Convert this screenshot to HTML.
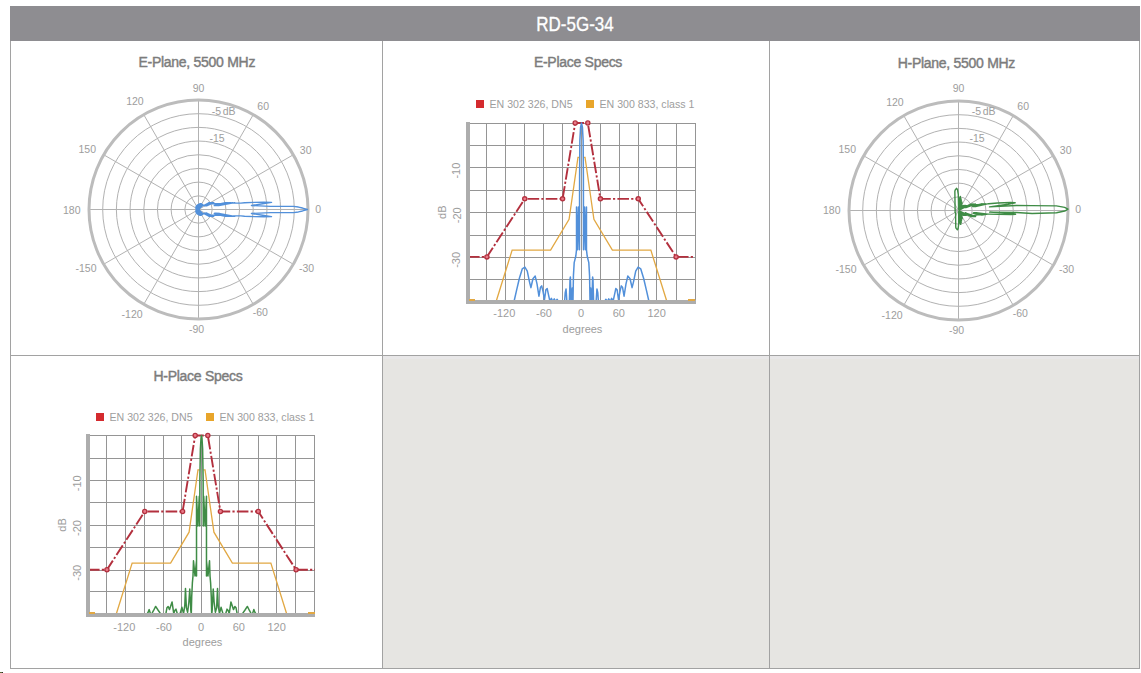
<!DOCTYPE html><html><head><meta charset="utf-8"><style>
html,body{margin:0;padding:0;background:#fff;}body{width:1141px;height:673px;position:relative;overflow:hidden;font-family:"Liberation Sans", sans-serif;}
.hdr{position:absolute;left:10px;top:6px;width:1130px;height:35px;background:#8e8d91;}
.hdr span{position:absolute;left:0;width:1130px;top:6px;text-align:center;color:#fff;font-size:21px;-webkit-text-stroke:0.35px #fff;line-height:24px;transform:scaleX(0.81);transform-origin:565px 0;}
.p{position:absolute;background:#e6e5e2;}
.l{position:absolute;background:#a2a2a2;}
svg{position:absolute;left:0;top:0;}
</style></head><body>
<div class="p" style="left:383px;top:356px;width:756px;height:312px"></div>
<div style="position:absolute;left:383px;top:356px;width:756px;height:3px;background:#e8e7e8"></div>
<div style="position:absolute;left:0;top:672px;width:2px;height:1px;background:#5a6a38"></div><div style="position:absolute;left:2px;top:672px;width:1px;height:1px;background:#2a2a2a"></div>
<div class="l" style="left:10px;top:41px;width:1px;height:628px"></div>
<div class="l" style="left:382px;top:41px;width:1px;height:628px"></div>
<div class="l" style="left:769px;top:41px;width:1px;height:628px"></div>
<div class="l" style="left:1139px;top:41px;width:1px;height:628px"></div>
<div class="l" style="left:10px;top:355px;width:1130px;height:1px"></div>
<div class="l" style="left:10px;top:668px;width:1130px;height:1px"></div>
<div class="hdr"><span>RD-5G-34</span></div>
<svg width="1141" height="673" viewBox="0 0 1141 673" font-family='"Liberation Sans", sans-serif'>
<text x="196.8" y="67.2" font-size="14" fill="#7c7c7c" text-anchor="middle" font-weight="normal" stroke="#7c7c7c" stroke-width="0.42" letter-spacing="-0.28">E-Plane, 5500 MHz</text>
<circle cx="198.5" cy="209.5" r="13.69" fill="none" stroke="#b2b2b2" stroke-width="1"/>
<circle cx="198.5" cy="209.5" r="27.38" fill="none" stroke="#b2b2b2" stroke-width="1"/>
<circle cx="198.5" cy="209.5" r="41.06" fill="none" stroke="#b2b2b2" stroke-width="1"/>
<circle cx="198.5" cy="209.5" r="54.75" fill="none" stroke="#b2b2b2" stroke-width="1"/>
<circle cx="198.5" cy="209.5" r="68.44" fill="none" stroke="#b2b2b2" stroke-width="1"/>
<circle cx="198.5" cy="209.5" r="82.12" fill="none" stroke="#b2b2b2" stroke-width="1"/>
<circle cx="198.5" cy="209.5" r="95.81" fill="none" stroke="#b2b2b2" stroke-width="1"/>
<line x1="198.5" y1="209.5" x2="308" y2="209.5" stroke="#b2b2b2" stroke-width="1"/>
<line x1="198.5" y1="209.5" x2="293.33" y2="154.75" stroke="#b2b2b2" stroke-width="1"/>
<line x1="198.5" y1="209.5" x2="253.25" y2="114.67" stroke="#b2b2b2" stroke-width="1"/>
<line x1="198.5" y1="209.5" x2="198.5" y2="100" stroke="#b2b2b2" stroke-width="1"/>
<line x1="198.5" y1="209.5" x2="143.75" y2="114.67" stroke="#b2b2b2" stroke-width="1"/>
<line x1="198.5" y1="209.5" x2="103.67" y2="154.75" stroke="#b2b2b2" stroke-width="1"/>
<line x1="198.5" y1="209.5" x2="89" y2="209.5" stroke="#b2b2b2" stroke-width="1"/>
<line x1="198.5" y1="209.5" x2="103.67" y2="264.25" stroke="#b2b2b2" stroke-width="1"/>
<line x1="198.5" y1="209.5" x2="143.75" y2="304.33" stroke="#b2b2b2" stroke-width="1"/>
<line x1="198.5" y1="209.5" x2="198.5" y2="319" stroke="#b2b2b2" stroke-width="1"/>
<line x1="198.5" y1="209.5" x2="253.25" y2="304.33" stroke="#b2b2b2" stroke-width="1"/>
<line x1="198.5" y1="209.5" x2="293.33" y2="264.25" stroke="#b2b2b2" stroke-width="1"/>
<circle cx="198.5" cy="209.5" r="109.5" fill="none" stroke="#bcbcbc" stroke-width="3"/>
<text x="198.5" y="92" font-size="10.5" fill="#9d9d9d" text-anchor="middle" font-weight="normal">90</text>
<text x="257.3" y="109.9" font-size="10.5" fill="#9d9d9d" text-anchor="start" font-weight="normal">60</text>
<text x="299.8" y="154" font-size="10.5" fill="#9d9d9d" text-anchor="start" font-weight="normal">30</text>
<text x="315.2" y="212.7" font-size="10.5" fill="#9d9d9d" text-anchor="start" font-weight="normal">0</text>
<text x="299" y="271.5" font-size="10.5" fill="#9d9d9d" text-anchor="start" font-weight="normal">-30</text>
<text x="252.7" y="316" font-size="10.5" fill="#9d9d9d" text-anchor="start" font-weight="normal">-60</text>
<text x="196.6" y="333" font-size="10.5" fill="#9d9d9d" text-anchor="middle" font-weight="normal">-90</text>
<text x="142.6" y="318.1" font-size="10.5" fill="#9d9d9d" text-anchor="end" font-weight="normal">-120</text>
<text x="96.5" y="271.8" font-size="10.5" fill="#9d9d9d" text-anchor="end" font-weight="normal">-150</text>
<text x="80.5" y="214" font-size="10.5" fill="#9d9d9d" text-anchor="end" font-weight="normal">180</text>
<text x="96" y="152.7" font-size="10.5" fill="#9d9d9d" text-anchor="end" font-weight="normal">150</text>
<text x="143.7" y="105.3" font-size="10.5" fill="#9d9d9d" text-anchor="end" font-weight="normal">120</text>
<text x="211.8" y="114.7" font-size="10.5" fill="#9d9d9d" text-anchor="start" font-weight="normal">-5<tspan dx="-0.8"> </tspan><tspan dx="-0.6">dB</tspan></text>
<text x="209.5" y="141.7" font-size="10.5" fill="#9d9d9d" text-anchor="start" font-weight="normal">-15</text>
<polyline points="198.22,209.5 196.56,209.54 198.2,209.51 196.48,209.63 198.19,209.53 196.4,209.72 198.18,209.54 196.32,209.82 198.17,209.56 196.26,209.93 198.16,209.57 196.19,210.04 198.15,209.59 196.14,210.16 198.14,209.61 196.08,210.28 198.13,209.63 196.04,210.42 198.13,209.65 196,210.55 198.12,209.67 195.97,210.69 198.12,209.69 195.95,210.83 198.12,209.71 195.93,210.98 198.11,209.73 195.92,211.14 198.11,209.76 195.92,211.29 198.11,209.78 195.93,211.45 198.12,209.8 195.95,211.61 198.12,209.83 195.98,211.77 198.12,209.85 196.01,211.93 198.13,209.88 196.06,212.1 198.14,209.9 196.12,212.26 198.15,209.93 196.19,212.42 198.16,209.95 196.27,212.57 198.17,209.97 196.35,212.73 198.18,210 196.45,212.89 198.2,210.02 196.55,213.04 198.22,210.04 196.67,213.19 198.23,210.06 196.79,213.34 198.25,210.09 196.92,213.48 198.27,210.11 197.07,213.62 198.3,210.13 197.22,213.75 198.32,210.15 197.38,213.88 198.34,210.17 197.54,214 198.37,210.18 197.72,214.11 198.4,210.2 197.9,214.22 198.42,210.22 198.09,214.32 198.45,210.23 198.29,214.42 198.48,210.24 198.5,214.5 198.52,210.26 198.72,214.65 198.55,210.28 198.94,214.79 198.58,210.3 199.19,214.92 198.62,210.32 199.44,215.05 198.66,210.34 199.7,215.15 198.7,210.36 199.98,215.25 198.74,210.37 200.26,215.33 198.79,210.38 200.55,215.4 198.83,210.39 200.82,215.36 198.87,210.37 201.06,215.26 198.9,210.36 201.3,215.14 198.94,210.34 201.54,215.02 198.97,210.32 201.76,214.89 199.01,210.3 201.99,214.75 199.04,210.28 202.2,214.6 199.07,210.25 202.41,214.44 199.1,210.23 202.62,214.27 199.13,210.2 202.81,214.09 199.16,210.18 203,213.91 199.19,210.15 203.18,213.72 203.71,213.87 204.57,213.91 209.22,216.3 204.56,213.24 209.82,216.3 204.9,213.24 210.47,216.3 205.27,213.24 211.18,216.3 205.68,213.24 211.96,216.3 206.13,213.24 212.82,216.3 206.63,213.24 213.77,216.3 212.16,215.3 213,215.3 213.93,215.3 214.97,215.3 216.14,215.3 217.47,215.3 219,215.3 220.77,215.3 225.42,216.41 214.3,213.47 226.64,216.41 215.03,213.47 227.97,216.41 215.83,213.47 229.42,216.41 216.7,213.47 231.02,216.41 217.66,213.47 232.78,216.41 218.73,213.47 234.73,216.41 233.37,215.9 235.55,215.9 238.01,215.9 240.82,215.9 244.55,216.22 254.16,216.63 263.8,216.71 271.51,216.66 262.58,215.22 251.46,213.48 270.43,212.6 293.44,212.6 298.39,211.94 302.51,210.95 307.45,209.5 302.51,208.05 298.39,207.06 293.44,206.4 270.43,206.4 251.46,205.52 262.58,203.78 271.51,202.34 263.8,202.29 254.16,202.37 244.55,202.78 240.82,203.1 238.01,203.1 235.55,203.1 233.37,203.1 234.73,202.59 218.73,205.53 232.78,202.59 217.66,205.53 231.02,202.59 216.7,205.53 229.42,202.59 215.83,205.53 227.97,202.59 215.03,205.53 226.64,202.59 214.3,205.53 225.42,202.59 220.77,203.7 219,203.7 217.47,203.7 216.14,203.7 214.97,203.7 213.93,203.7 213,203.7 212.16,203.7 213.77,202.7 206.63,205.76 212.82,202.7 206.13,205.76 211.96,202.7 205.68,205.76 211.18,202.7 205.27,205.76 210.47,202.7 204.9,205.76 209.82,202.7 204.56,205.76 209.22,202.7 204.57,205.09 203.71,205.13 203.18,205.28 199.19,208.85 203,205.09 199.16,208.82 202.81,204.91 199.13,208.8 202.62,204.73 199.1,208.77 202.41,204.56 199.07,208.75 202.2,204.4 199.04,208.72 201.99,204.25 199.01,208.7 201.76,204.11 198.97,208.68 201.54,203.98 198.94,208.66 201.3,203.86 198.9,208.64 201.06,203.74 198.87,208.63 200.82,203.64 198.83,208.61 200.55,203.6 198.79,208.62 200.26,203.67 198.74,208.63 199.98,203.75 198.7,208.64 199.7,203.85 198.66,208.66 199.44,203.95 198.62,208.68 199.19,204.08 198.58,208.7 198.94,204.21 198.55,208.72 198.72,204.35 198.52,208.74 198.5,204.5 198.48,208.76 198.29,204.58 198.45,208.77 198.09,204.68 198.42,208.78 197.9,204.78 198.4,208.8 197.72,204.89 198.37,208.82 197.54,205 198.34,208.83 197.38,205.12 198.32,208.85 197.22,205.25 198.3,208.87 197.07,205.38 198.27,208.89 196.92,205.52 198.25,208.91 196.79,205.66 198.23,208.94 196.67,205.81 198.22,208.96 196.55,205.96 198.2,208.98 196.45,206.11 198.18,209 196.35,206.27 198.17,209.03 196.27,206.43 198.16,209.05 196.19,206.58 198.15,209.07 196.12,206.74 198.14,209.1 196.06,206.9 198.13,209.12 196.01,207.07 198.12,209.15 195.98,207.23 198.12,209.17 195.95,207.39 198.12,209.2 195.93,207.55 198.11,209.22 195.92,207.71 198.11,209.24 195.92,207.86 198.11,209.27 195.93,208.02 198.12,209.29 195.95,208.17 198.12,209.31 195.97,208.31 198.12,209.33 196,208.45 198.13,209.35 196.04,208.58 198.13,209.37 196.08,208.72 198.14,209.39 196.14,208.84 198.15,209.41 196.19,208.96 198.16,209.43 196.26,209.07 198.17,209.44 196.32,209.18 198.18,209.46 196.4,209.28 198.19,209.47 196.48,209.37 198.2,209.49 196.56,209.46 198.22,209.5" fill="none" stroke="#5290da" stroke-width="1.4" stroke-linejoin="round"/>
<text x="956.4" y="68.1" font-size="14" fill="#7c7c7c" text-anchor="middle" font-weight="normal" stroke="#7c7c7c" stroke-width="0.42" letter-spacing="-0.28">H-Plane, 5500 MHz</text>
<circle cx="958.5" cy="210.5" r="13.69" fill="none" stroke="#b2b2b2" stroke-width="1"/>
<circle cx="958.5" cy="210.5" r="27.38" fill="none" stroke="#b2b2b2" stroke-width="1"/>
<circle cx="958.5" cy="210.5" r="41.06" fill="none" stroke="#b2b2b2" stroke-width="1"/>
<circle cx="958.5" cy="210.5" r="54.75" fill="none" stroke="#b2b2b2" stroke-width="1"/>
<circle cx="958.5" cy="210.5" r="68.44" fill="none" stroke="#b2b2b2" stroke-width="1"/>
<circle cx="958.5" cy="210.5" r="82.12" fill="none" stroke="#b2b2b2" stroke-width="1"/>
<circle cx="958.5" cy="210.5" r="95.81" fill="none" stroke="#b2b2b2" stroke-width="1"/>
<line x1="958.5" y1="210.5" x2="1068" y2="210.5" stroke="#b2b2b2" stroke-width="1"/>
<line x1="958.5" y1="210.5" x2="1053.33" y2="155.75" stroke="#b2b2b2" stroke-width="1"/>
<line x1="958.5" y1="210.5" x2="1013.25" y2="115.67" stroke="#b2b2b2" stroke-width="1"/>
<line x1="958.5" y1="210.5" x2="958.5" y2="101" stroke="#b2b2b2" stroke-width="1"/>
<line x1="958.5" y1="210.5" x2="903.75" y2="115.67" stroke="#b2b2b2" stroke-width="1"/>
<line x1="958.5" y1="210.5" x2="863.67" y2="155.75" stroke="#b2b2b2" stroke-width="1"/>
<line x1="958.5" y1="210.5" x2="849" y2="210.5" stroke="#b2b2b2" stroke-width="1"/>
<line x1="958.5" y1="210.5" x2="863.67" y2="265.25" stroke="#b2b2b2" stroke-width="1"/>
<line x1="958.5" y1="210.5" x2="903.75" y2="305.33" stroke="#b2b2b2" stroke-width="1"/>
<line x1="958.5" y1="210.5" x2="958.5" y2="320" stroke="#b2b2b2" stroke-width="1"/>
<line x1="958.5" y1="210.5" x2="1013.25" y2="305.33" stroke="#b2b2b2" stroke-width="1"/>
<line x1="958.5" y1="210.5" x2="1053.33" y2="265.25" stroke="#b2b2b2" stroke-width="1"/>
<circle cx="958.5" cy="210.5" r="109.5" fill="none" stroke="#bcbcbc" stroke-width="3"/>
<text x="958.5" y="92.2" font-size="10.5" fill="#9d9d9d" text-anchor="middle" font-weight="normal">90</text>
<text x="1017.3" y="110.1" font-size="10.5" fill="#9d9d9d" text-anchor="start" font-weight="normal">60</text>
<text x="1059.8" y="154.2" font-size="10.5" fill="#9d9d9d" text-anchor="start" font-weight="normal">30</text>
<text x="1075.2" y="212.9" font-size="10.5" fill="#9d9d9d" text-anchor="start" font-weight="normal">0</text>
<text x="1059" y="272.8" font-size="10.5" fill="#9d9d9d" text-anchor="start" font-weight="normal">-30</text>
<text x="1012.7" y="317.3" font-size="10.5" fill="#9d9d9d" text-anchor="start" font-weight="normal">-60</text>
<text x="956.6" y="334.3" font-size="10.5" fill="#9d9d9d" text-anchor="middle" font-weight="normal">-90</text>
<text x="902.6" y="319.4" font-size="10.5" fill="#9d9d9d" text-anchor="end" font-weight="normal">-120</text>
<text x="856.5" y="273.1" font-size="10.5" fill="#9d9d9d" text-anchor="end" font-weight="normal">-150</text>
<text x="840.5" y="214.2" font-size="10.5" fill="#9d9d9d" text-anchor="end" font-weight="normal">180</text>
<text x="856" y="152.9" font-size="10.5" fill="#9d9d9d" text-anchor="end" font-weight="normal">150</text>
<text x="903.7" y="105.5" font-size="10.5" fill="#9d9d9d" text-anchor="end" font-weight="normal">120</text>
<text x="971.8" y="114.9" font-size="10.5" fill="#9d9d9d" text-anchor="start" font-weight="normal">-5<tspan dx="-0.8"> </tspan><tspan dx="-0.6">dB</tspan></text>
<text x="969.5" y="141.9" font-size="10.5" fill="#9d9d9d" text-anchor="start" font-weight="normal">-15</text>
<polyline points="955.1,210.54 955.1,210.66 955.1,210.78 955.1,210.9 955.11,211.02 955.11,211.14 955.11,211.26 955.11,211.39 955.11,211.52 955.11,211.65 955.12,211.78 955.12,211.92 955.12,212.06 955.12,212.2 955.12,212.35 955.12,212.5 955.58,212.37 955.58,212.52 955.58,212.67 955.59,212.83 955.59,213 955.59,213.19 955.59,213.38 955.59,213.58 955.6,213.8 955.6,214.04 955.6,214.3 955.61,214.59 955.61,214.9 955.62,215.24 955.62,215.63 955.63,216.07 955.63,216.57 955.64,217.14 955.65,217.82 955.66,218.62 955.67,219.59 955.68,220.8 955.7,222.34 955.73,224.38 955.76,227.22 956.19,228.53 956.78,229.03 957.39,229.77 958.09,228.67 958.67,224.35 958.63,212.5 959.7,222.97 958.65,211.69 960.72,224.39 958.73,211.68 961.19,222.46 958.8,211.66 961.54,220.91 958.87,211.64 961.54,218.91 958.94,211.61 962.13,218.85 959.01,211.58 962.26,217.85 959.08,211.55 961.84,216.12 958.96,211.22 961.02,214.28 959.06,211.29 961.54,214.58 959.16,211.34 962.1,214.84 959.28,211.39 962.69,215.04 959.4,211.43 963.31,215.2 959.53,211.45 963.96,215.3 959.66,211.47 964.64,215.35 959.8,211.47 965.33,215.33 959.94,211.46 966.03,215.26 960.08,211.44 966.75,215.13 960.22,211.41 967.46,214.93 964.13,213.23 971.29,216.54 964.43,213.23 971.99,216.54 964.76,213.22 972.77,216.53 965.13,213.22 973.62,216.52 965.53,213.21 974.56,216.5 965.98,213.21 975.61,216.49 974.14,215.68 975.12,215.42 976.19,215.15 977.36,214.87 978.67,214.6 982.08,215.1 973.03,213.22 983.1,214.91 973.66,213.1 984.2,214.71 974.35,212.98 985.39,214.52 975.1,212.86 986.68,214.32 975.91,212.75 988.09,214.12 989.22,214.13 998.28,214.42 1010.91,214.46 1015.59,214.19 1008.51,213.41 989.67,212.11 1016.5,212.49 1032.08,213.55 1056.48,212.72 1064.71,211.06 1067.99,209.16 1064.67,207.35 1056.39,205.88 1031.98,205.66 1016.31,205.44 989.5,206.91 1008.2,204.22 1015.18,202.74 1010.44,202.46 997.75,202.94 988.68,203.7 987.56,203.84 975.59,206.49 986.15,203.86 974.78,206.5 984.87,203.88 974.04,206.51 983.69,203.89 973.36,206.52 982.61,203.9 972.73,206.53 981.61,203.92 978.26,204.76 977,204.77 975.88,204.79 974.87,204.8 973.96,204.81 975.46,204.09 965.91,207.61 974.41,204.11 965.47,207.61 973.47,204.12 965.06,207.62 972.61,204.13 964.7,207.62 971.84,204.14 964.36,207.63 971.14,204.15 964.06,207.63 967.35,205.85 960.2,209.55 966.63,205.67 960.05,209.52 965.91,205.56 959.91,209.5 965.21,205.5 959.77,209.5 964.52,205.51 959.64,209.51 963.84,205.57 959.5,209.52 963.2,205.69 959.38,209.55 962.58,205.86 959.26,209.59 961.99,206.08 959.14,209.64 961.44,206.35 959.04,209.7 960.93,206.66 958.94,209.77 961.7,204.8 959.05,209.44 962.08,203.06 958.99,209.4 961.93,202.06 958.92,209.37 961.34,202.02 958.84,209.35 961.29,200.02 958.77,209.33 960.9,198.48 958.7,209.32 960.38,196.56 958.62,209.31 959.4,198 958.58,208.5 958.3,194.5 957.51,189.52 956.67,188.27 955.99,189.15 955.32,189.74 954.86,191.26 954.9,194.55 954.93,196.91 954.96,198.69 954.97,200.08 954.99,201.2 955,202.13 955.01,202.91 955.02,203.57 955.02,204.15 955.03,204.65 955.03,205.1 955.04,205.5 955.04,205.86 955.05,206.19 955.05,206.49 955.05,206.77 955.06,207.02 955.06,207.26 955.06,207.48 955.07,207.69 955.07,207.89 955.07,208.07 955.07,208.25 955.07,208.42 955.08,208.58 955.08,208.73 955.08,208.88 955.08,209.03 955.08,209.17 955.09,209.3 955.09,209.44 955.09,209.57 955.09,209.69 955.09,209.82 955.09,209.94 955.09,210.06 955.1,210.18 955.1,210.3 955.1,210.42 955.1,210.54" fill="none" stroke="#3f8c46" stroke-width="1.4" stroke-linejoin="round"/>
<text x="578" y="67.2" font-size="14" fill="#7c7c7c" text-anchor="middle" font-weight="normal" stroke="#7c7c7c" stroke-width="0.42" letter-spacing="-0.28">E-Place Specs</text>
<rect x="476" y="100" width="8" height="8" fill="#d42a2e"/>
<text x="489.5" y="107.7" font-size="10.6" fill="#9d9d9d" text-anchor="start" font-weight="normal">EN 302 326, DN5</text>
<rect x="586" y="100" width="8" height="8" fill="#e8a52a"/>
<text x="599.5" y="107.7" font-size="10.6" fill="#9d9d9d" text-anchor="start" font-weight="normal">EN 300 833, class 1</text>
<rect x="486" y="123" width="1" height="179" fill="#959595"/>
<rect x="505" y="123" width="1" height="179" fill="#959595"/>
<rect x="524" y="123" width="1" height="179" fill="#959595"/>
<rect x="543" y="123" width="1" height="179" fill="#959595"/>
<rect x="562" y="123" width="1" height="179" fill="#959595"/>
<rect x="581" y="123" width="1" height="179" fill="#959595"/>
<rect x="600" y="123" width="1" height="179" fill="#959595"/>
<rect x="619" y="123" width="1" height="179" fill="#959595"/>
<rect x="638" y="123" width="1" height="179" fill="#959595"/>
<rect x="656" y="123" width="1" height="179" fill="#959595"/>
<rect x="676" y="123" width="1" height="179" fill="#959595"/>
<rect x="695" y="123" width="1" height="179" fill="#959595"/>
<rect x="468" y="123" width="228" height="1" fill="#959595"/>
<rect x="468" y="145" width="228" height="1" fill="#959595"/>
<rect x="468" y="167" width="228" height="1" fill="#959595"/>
<rect x="468" y="190" width="228" height="1" fill="#959595"/>
<rect x="468" y="212" width="228" height="1" fill="#959595"/>
<rect x="468" y="235" width="228" height="1" fill="#959595"/>
<rect x="468" y="257" width="228" height="1" fill="#959595"/>
<rect x="468" y="279" width="228" height="1" fill="#959595"/>
<polyline points="468,301.5 496.12,301.5 512.14,250.18 550.6,250.18 569.08,219.39 577.97,157.36 579.61,157.36" fill="none" stroke="#e2a843" stroke-width="1.3"/>
<polyline points="695,301.5 666.88,301.5 650.86,250.18 612.4,250.18 593.92,219.39 585.03,157.36 583.39,157.36" fill="none" stroke="#e2a843" stroke-width="1.3"/>
<polyline points="468,256.88 486.92,256.88 524.75,198.86 562.58,198.86 575.19,123 587.81,123 600.42,198.86 638.25,198.86 676.08,256.88 695,256.88" fill="none" stroke="#b3303e" stroke-width="1.9" stroke-dasharray="11.6,2.2,2.2,2.2"/>
<polyline points="468,301.5 514.03,301.5 516.55,290.34 519.39,278.29 522.23,268.92 524.88,267.14 527.27,271.15 529.48,281.87 530.93,287.67 532.95,278.74 535.22,276.06 537.05,284.1 538.94,296.14 540.51,287.22 541.71,285.88 543.04,291.68 544.49,299.72 545.87,289.9 547.2,288.56 548.52,294.81 549.97,301.5 551.36,298.38 552.81,301.5 554.26,298.82 555.65,301.5 557.03,299.27 558.42,301.5 564.6,301.5 565.23,292.57 566.05,289 566.87,301.5 569.39,301.5 570.02,279.19 570.4,276.96 571.03,301.5 571.73,301.5 572.29,288.11 572.74,301.5 572.99,301.5 573.43,275.62 574.19,262.68 575.83,255.98 576.52,249.74 576.52,206.9 577.46,249.74 578.41,206.9 579.36,249.74 579.48,249.74 579.61,176.55 579.86,140.85 580.55,127.46 581.5,123 582.45,127.46 583.14,140.85 583.39,176.55 583.52,249.74 583.64,249.74 584.59,206.9 585.54,249.74 586.48,206.9 586.48,249.74 587.17,255.98 588.81,262.68 589.57,275.62 590.01,301.5 590.26,301.5 590.71,288.11 591.27,301.5 591.97,301.5 592.6,276.96 592.98,279.19 593.61,301.5 596.13,301.5 596.95,289 597.77,292.57 598.4,301.5 604.58,301.5 605.97,299.27 607.35,301.5 608.74,298.82 610.19,301.5 611.64,298.38 613.03,301.5 614.48,294.81 615.8,288.56 617.13,289.9 618.51,299.72 619.96,291.68 621.29,285.88 622.49,287.22 624.06,296.14 625.95,284.1 627.78,276.06 630.05,278.74 632.07,287.67 633.52,281.87 635.73,271.15 638.12,267.14 640.77,268.92 643.61,278.29 646.45,290.34 648.97,301.5 695,301.5" fill="none" stroke="#5290da" stroke-width="1.5" stroke-linejoin="round"/>
<rect x="466" y="122" width="4" height="182" fill="#adadad"/>
<rect x="466" y="300" width="230" height="4" fill="#adadad"/>
<line x1="469" y1="300" x2="475" y2="300" stroke="#e2a843" stroke-width="2"/>
<line x1="688" y1="300" x2="695" y2="300" stroke="#e2a843" stroke-width="2"/>
<circle cx="486.92" cy="256.88" r="2.1" fill="#e97a88" stroke="#b3303e" stroke-width="1.3"/>
<circle cx="524.75" cy="198.86" r="2.1" fill="#e97a88" stroke="#b3303e" stroke-width="1.3"/>
<circle cx="562.58" cy="198.86" r="2.1" fill="#e97a88" stroke="#b3303e" stroke-width="1.3"/>
<circle cx="575.19" cy="123" r="2.1" fill="#e97a88" stroke="#b3303e" stroke-width="1.3"/>
<circle cx="587.81" cy="123" r="2.1" fill="#e97a88" stroke="#b3303e" stroke-width="1.3"/>
<circle cx="600.42" cy="198.86" r="2.1" fill="#e97a88" stroke="#b3303e" stroke-width="1.3"/>
<circle cx="638.25" cy="198.86" r="2.1" fill="#e97a88" stroke="#b3303e" stroke-width="1.3"/>
<circle cx="676.08" cy="256.88" r="2.1" fill="#e97a88" stroke="#b3303e" stroke-width="1.3"/>
<text x="504.33" y="317" font-size="11" fill="#9d9d9d" text-anchor="middle" font-weight="normal">-120</text>
<text x="543.97" y="317" font-size="11" fill="#9d9d9d" text-anchor="middle" font-weight="normal">-60</text>
<text x="581" y="317" font-size="11" fill="#9d9d9d" text-anchor="middle" font-weight="normal">0</text>
<text x="618.83" y="317" font-size="11" fill="#9d9d9d" text-anchor="middle" font-weight="normal">60</text>
<text x="656.67" y="317" font-size="11" fill="#9d9d9d" text-anchor="middle" font-weight="normal">120</text>
<text x="582.5" y="332.5" font-size="11" fill="#9d9d9d" text-anchor="middle" font-weight="normal">degrees</text>
<text x="460.5" y="170.62" font-size="11" fill="#9d9d9d" text-anchor="middle" font-weight="normal" transform="rotate(-90 460.5 170.62)">-10</text>
<text x="460.5" y="215.25" font-size="11" fill="#9d9d9d" text-anchor="middle" font-weight="normal" transform="rotate(-90 460.5 215.25)">-20</text>
<text x="460.5" y="259.88" font-size="11" fill="#9d9d9d" text-anchor="middle" font-weight="normal" transform="rotate(-90 460.5 259.88)">-30</text>
<text x="445.5" y="212.25" font-size="11" fill="#9d9d9d" text-anchor="middle" font-weight="normal" transform="rotate(-90 445.5 212.25)">dB</text>
<text x="198" y="380.6" font-size="14" fill="#7c7c7c" text-anchor="middle" font-weight="normal" stroke="#7c7c7c" stroke-width="0.42" letter-spacing="-0.28">H-Place Specs</text>
<rect x="96" y="413" width="8" height="8" fill="#d42a2e"/>
<text x="109.5" y="421.1" font-size="10.6" fill="#9d9d9d" text-anchor="start" font-weight="normal">EN 302 326, DN5</text>
<rect x="206" y="413" width="8" height="8" fill="#e8a52a"/>
<text x="219.5" y="421.1" font-size="10.6" fill="#9d9d9d" text-anchor="start" font-weight="normal">EN 300 833, class 1</text>
<rect x="106" y="435" width="1" height="180" fill="#959595"/>
<rect x="125" y="435" width="1" height="180" fill="#959595"/>
<rect x="144" y="435" width="1" height="180" fill="#959595"/>
<rect x="163" y="435" width="1" height="180" fill="#959595"/>
<rect x="181" y="435" width="1" height="180" fill="#959595"/>
<rect x="201" y="435" width="1" height="180" fill="#959595"/>
<rect x="219" y="435" width="1" height="180" fill="#959595"/>
<rect x="238" y="435" width="1" height="180" fill="#959595"/>
<rect x="258" y="435" width="1" height="180" fill="#959595"/>
<rect x="276" y="435" width="1" height="180" fill="#959595"/>
<rect x="295" y="435" width="1" height="180" fill="#959595"/>
<rect x="314" y="435" width="1" height="180" fill="#959595"/>
<rect x="88" y="435" width="227" height="1" fill="#959595"/>
<rect x="88" y="458" width="227" height="1" fill="#959595"/>
<rect x="88" y="480" width="227" height="1" fill="#959595"/>
<rect x="88" y="502" width="227" height="1" fill="#959595"/>
<rect x="88" y="525" width="227" height="1" fill="#959595"/>
<rect x="88" y="547" width="227" height="1" fill="#959595"/>
<rect x="88" y="570" width="227" height="1" fill="#959595"/>
<rect x="88" y="591" width="227" height="1" fill="#959595"/>
<polyline points="88,614.5 116.12,614.5 132.14,563.04 170.6,563.04 189.08,532.16 197.97,469.96 199.61,469.96" fill="none" stroke="#e2a843" stroke-width="1.3"/>
<polyline points="315,614.5 286.88,614.5 270.86,563.04 232.4,563.04 213.92,532.16 205.03,469.96 203.39,469.96" fill="none" stroke="#e2a843" stroke-width="1.3"/>
<polyline points="88,569.75 106.92,569.75 144.75,511.57 182.58,511.57 195.19,435.5 207.81,435.5 220.42,511.57 258.25,511.57 296.08,569.75 315,569.75" fill="none" stroke="#b3303e" stroke-width="1.9" stroke-dasharray="11.6,2.2,2.2,2.2"/>
<polyline points="88,614.5 146.64,614.5 147.9,612.71 149.16,609.58 150.43,613.61 151.37,614.5 153.58,610.47 155.66,606.45 157.99,610.02 160.51,613.61 162.41,614.5 165.87,613.61 166.95,607.79 168.14,606.45 169.53,609.58 172.05,601.97 173.76,613.61 174.83,610.47 175.96,609.13 177.54,614.5 180.06,613.61 181.95,607.34 183.53,613.61 184.79,605.55 185.48,588.55 186.37,607.79 187.63,612.26 188.89,601.97 189.77,588.99 190.78,609.13 190.78,610.02 191.28,614.5 191.73,596.6 192.36,583.17 192.99,576.01 193.49,560.8 195.01,576.01 196.52,560.8 196.52,576.01 196.52,525.89 196.52,496.36 197.91,525.89 199.29,496.36 199.73,525.89 199.86,480.25 200.37,448.93 201,438.19 201.5,435.5 202,438.19 202.63,448.93 203.14,480.25 203.27,525.89 203.71,496.36 205.09,525.89 206.48,496.36 206.48,525.89 206.48,576.01 206.48,560.8 207.99,576.01 209.51,560.8 210.01,576.01 210.64,583.17 211.27,596.6 211.71,614.5 212.22,610.02 212.22,609.13 213.23,588.99 214.11,601.97 215.37,612.26 216.63,607.79 217.52,588.55 218.21,605.55 219.47,613.61 221.05,607.34 222.94,613.61 225.46,614.5 227.04,609.13 228.17,610.47 229.24,613.61 230.95,601.97 233.47,609.58 234.86,606.45 236.05,607.79 237.13,613.61 240.59,614.5 242.49,613.61 245.01,610.02 247.34,606.45 249.42,610.47 251.63,614.5 252.57,613.61 253.84,609.58 255.1,612.71 256.36,614.5 315,614.5" fill="none" stroke="#3f8c46" stroke-width="1.5" stroke-linejoin="round"/>
<rect x="86" y="434" width="4" height="183" fill="#adadad"/>
<rect x="86" y="613" width="229" height="4" fill="#adadad"/>
<line x1="89" y1="613" x2="95" y2="613" stroke="#e2a843" stroke-width="2"/>
<line x1="308" y1="613" x2="315" y2="613" stroke="#e2a843" stroke-width="2"/>
<circle cx="106.92" cy="569.75" r="2.1" fill="#e97a88" stroke="#b3303e" stroke-width="1.3"/>
<circle cx="144.75" cy="511.57" r="2.1" fill="#e97a88" stroke="#b3303e" stroke-width="1.3"/>
<circle cx="182.58" cy="511.57" r="2.1" fill="#e97a88" stroke="#b3303e" stroke-width="1.3"/>
<circle cx="195.19" cy="435.5" r="2.1" fill="#e97a88" stroke="#b3303e" stroke-width="1.3"/>
<circle cx="207.81" cy="435.5" r="2.1" fill="#e97a88" stroke="#b3303e" stroke-width="1.3"/>
<circle cx="220.42" cy="511.57" r="2.1" fill="#e97a88" stroke="#b3303e" stroke-width="1.3"/>
<circle cx="258.25" cy="511.57" r="2.1" fill="#e97a88" stroke="#b3303e" stroke-width="1.3"/>
<circle cx="296.08" cy="569.75" r="2.1" fill="#e97a88" stroke="#b3303e" stroke-width="1.3"/>
<text x="124.33" y="630.9" font-size="11" fill="#9d9d9d" text-anchor="middle" font-weight="normal">-120</text>
<text x="163.97" y="630.9" font-size="11" fill="#9d9d9d" text-anchor="middle" font-weight="normal">-60</text>
<text x="201" y="630.9" font-size="11" fill="#9d9d9d" text-anchor="middle" font-weight="normal">0</text>
<text x="238.83" y="630.9" font-size="11" fill="#9d9d9d" text-anchor="middle" font-weight="normal">60</text>
<text x="276.67" y="630.9" font-size="11" fill="#9d9d9d" text-anchor="middle" font-weight="normal">120</text>
<text x="202.5" y="645.5" font-size="11" fill="#9d9d9d" text-anchor="middle" font-weight="normal">degrees</text>
<text x="80.5" y="483.25" font-size="11" fill="#9d9d9d" text-anchor="middle" font-weight="normal" transform="rotate(-90 80.5 483.25)">-10</text>
<text x="80.5" y="528" font-size="11" fill="#9d9d9d" text-anchor="middle" font-weight="normal" transform="rotate(-90 80.5 528)">-20</text>
<text x="80.5" y="572.75" font-size="11" fill="#9d9d9d" text-anchor="middle" font-weight="normal" transform="rotate(-90 80.5 572.75)">-30</text>
<text x="65.5" y="525" font-size="11" fill="#9d9d9d" text-anchor="middle" font-weight="normal" transform="rotate(-90 65.5 525)">dB</text>
</svg></body></html>
